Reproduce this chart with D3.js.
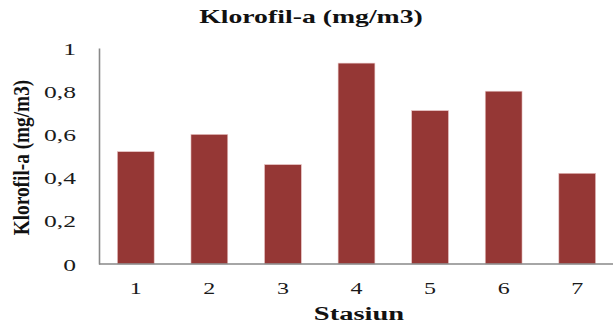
<!DOCTYPE html>
<html>
<head>
<meta charset="utf-8">
<script src="https://cdn.jsdelivr.net/npm/d3@7"></script>
<style>
  html, body { margin: 0; padding: 0; background: #fff; }
  svg { display: block; }
</style>
</head>
<body>
<script>
// Chlorophyll-a concentration per station
const stations = ["1", "2", "3", "4", "5", "6", "7"];
const klorofil = [0.52, 0.60, 0.46, 0.93, 0.71, 0.80, 0.42];
const yTicks = [0, 0.2, 0.4, 0.6, 0.8, 1];

const W = 613, H = 329;
const plotLeft = 99, plotRight = 614, plotTop = 48, plotBottom = 264;
const serif = "'Liberation Serif', 'Times New Roman', serif";
const stretch = 1.5;   // text is drawn wide

const svg = d3.select("body").append("svg")
  .attr("width", W).attr("height", H);

const x = d3.scaleBand().domain(stations).range([plotLeft, plotRight])
  .paddingInner(0.5).paddingOuter(0.25);
const y = d3.scaleLinear().domain([0, 1]).range([plotBottom, plotTop]);

// bars
svg.append("g").selectAll("rect").data(klorofil).join("rect")
  .attr("x", (d, i) => x(stations[i]))
  .attr("y", d => y(d))
  .attr("width", x.bandwidth())
  .attr("height", d => y(0) - y(d))
  .attr("fill", "#953735")
  .attr("stroke", "#e8c4c3")
  .attr("stroke-width", 0.6);

// y axis
const yAxis = svg.append("g").attr("transform", `translate(${plotLeft},0)`)
  .call(d3.axisLeft(y).tickValues(yTicks).tickSize(0)
    .tickFormat(d => d3.format(".1~f")(d).replace(".", ",")));
yAxis.select(".domain").attr("stroke", "#898989").attr("stroke-width", 1.6);
yAxis.selectAll("text")
  .attr("x", 0).attr("dy", "0.38em")
  .attr("transform", `translate(-23,0) scale(1.6,1)`)
  .attr("font-family", serif).attr("font-size", 16).attr("fill", "#1a1a1a");

// x axis
const xAxis = svg.append("g").attr("transform", `translate(0,${plotBottom})`)
  .call(d3.axisBottom(x).tickSize(0));
xAxis.select(".domain").attr("stroke", "#898989").attr("stroke-width", 1.6)
  .attr("d", `M${plotLeft},0H${W}`);
xAxis.selectAll("text")
  .attr("y", 0).attr("dy", 0)
  .attr("transform", `translate(0,30) scale(${stretch},1)`)
  .attr("font-family", serif).attr("font-size", 16).attr("fill", "#1a1a1a");

// titles
svg.append("text")
  .attr("transform", `translate(311,22.7) scale(${stretch},1)`)
  .attr("text-anchor", "middle").attr("font-family", serif)
  .attr("font-weight", "bold").attr("font-size", 18.5).attr("fill", "#111")
  .text("Klorofil-a (mg/m3)");

svg.append("text")
  .attr("transform", `translate(359,320) scale(${stretch},1)`)
  .attr("text-anchor", "middle").attr("font-family", serif)
  .attr("font-weight", "bold").attr("font-size", 19).attr("fill", "#111")
  .text("Stasiun");

svg.append("text")
  .attr("transform", "translate(28.5,157.5) rotate(-90) scale(1,1.25)")
  .attr("text-anchor", "middle").attr("font-family", serif)
  .attr("font-weight", "bold").attr("font-size", 19.3).attr("fill", "#111")
  .text("Klorofil-a (mg/m3)");
</script>
</body>
</html>
